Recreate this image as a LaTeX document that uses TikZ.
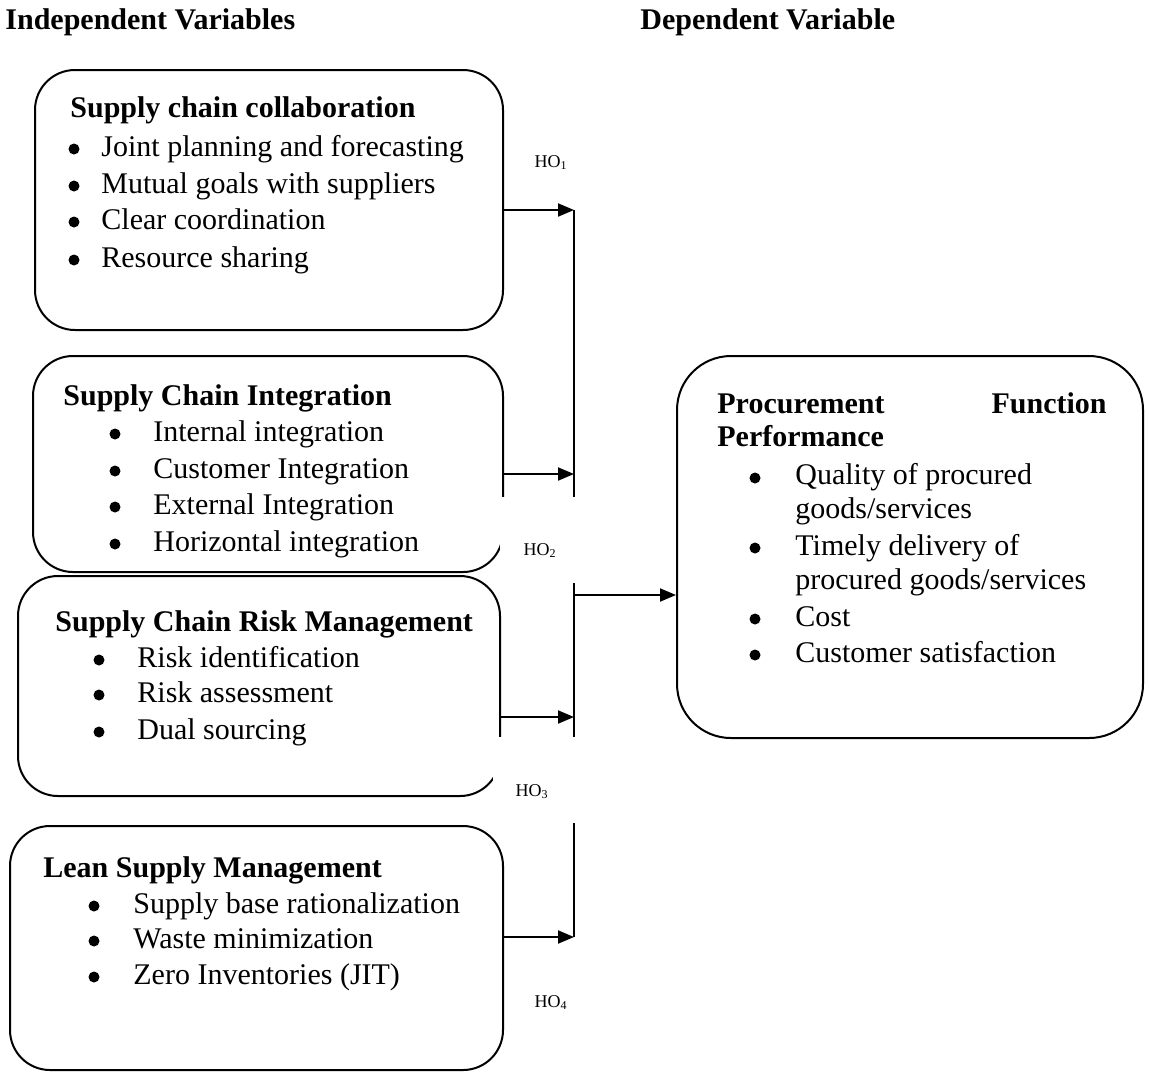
\documentclass[tikz,border=0pt]{standalone}
\usepackage{fontspec}
\setmainfont{Liberation Serif}
\usetikzlibrary{arrows.meta,fit}
\begin{document}
\begin{tikzpicture}[x=0.5pt,y=-0.5pt,
  box/.style={draw, line width=1pt, rounded corners=20pt, inner sep=0pt},
  txt/.style={anchor=base west, inner sep=0pt, font=\fontsize{15}{18}\selectfont},
  ttl/.style={anchor=base west, inner sep=0pt, font=\fontsize{15}{18}\selectfont\bfseries},
  bul/.style={circle, fill, inner sep=0pt, minimum size=5.5pt},
  hobg/.style={fill=white, inner sep=0pt, minimum width=43.5pt, minimum height=43pt},
  hot/.style={inner sep=0pt, font=\fontsize{9}{11}\selectfont},
  arr/.style={line width=1pt, -{Triangle[length=8pt,width=6.5pt]}},
  ln/.style={line width=1pt}]
\useasboundingbox (0,0) rectangle (1149,1072);
% headers
\node[ttl] (hind) at (5,29) {Independent Variables};
\node[ttl] (hdep) at (640,29) {Dependent Variable};
% boxes
\node[box, fit={(35,70) (503,330)}] (b1) {};
\node[box, fit={(33,356) (503,572)}] (b2) {};
\node[box, fit={(18,576) (500,796)}] (b3) {};
\node[box, fit={(10,826) (503,1070)}] (b4) {};
\node[box, rounded corners=27pt, fit={(677,356) (1143,738)}] (pf) {};
% box 1
\node[ttl] (b1t) at (70,117) {Supply chain collaboration};
\node[bul] (b1p1) at (74,149) {}; \node[txt] (b1a) at (101,156) {Joint planning and forecasting};
\node[bul] (b1p2) at (74,186) {}; \node[txt] (b1b) at (101,193) {Mutual goals with suppliers};
\node[bul] (b1p3) at (74,222) {}; \node[txt] (b1c) at (101,229) {Clear coordination};
\node[bul] (b1p4) at (74,260) {}; \node[txt] (b1d) at (101,267) {Resource sharing};
% box 2
\node[ttl] (b2t) at (63,405) {Supply Chain Integration};
\node[bul] (b2p1) at (115,434) {}; \node[txt] (b2a) at (153,441) {Internal integration};
\node[bul] (b2p2) at (115,471) {}; \node[txt] (b2b) at (153,478) {Customer Integration};
\node[bul] (b2p3) at (115,507) {}; \node[txt] (b2c) at (153,514) {External Integration};
\node[bul] (b2p4) at (115,544) {}; \node[txt] (b2d) at (153,551) {Horizontal integration};
% box 3
\node[ttl] (b3t) at (55,631) {Supply Chain Risk Management};
\node[bul] (b3p1) at (99,660) {}; \node[txt] (b3a) at (137,667) {Risk identification};
\node[bul] (b3p2) at (99,695) {}; \node[txt] (b3b) at (137,702) {Risk assessment};
\node[bul] (b3p3) at (99,732) {}; \node[txt] (b3c) at (137,739) {Dual sourcing};
% box 4
\node[ttl] (b4t) at (43,877) {Lean Supply Management};
\node[bul] (b4p1) at (94,906) {}; \node[txt] (b4a) at (133,913) {Supply base rationalization};
\node[bul] (b4p2) at (94,941) {}; \node[txt] (b4b) at (133,948) {Waste minimization};
\node[bul] (b4p3) at (94,977) {}; \node[txt] (b4c) at (133,984) {Zero Inventories (JIT)};
% dependent box
\node[ttl] (pft1) at (717,413) {Procurement};
\node[ttl, anchor=base east] (pft2) at (1107,413) {Function};
\node[ttl] (pft3) at (717,446) {Performance};
\node[bul] (pfp1) at (755,478) {}; \node[txt] (pfa) at (795,484) {Quality of procured};
\node[txt] (pfa2) at (795,518) {goods/services};
\node[bul] (pfp2) at (755,548) {}; \node[txt] (pfb) at (795,555) {Timely delivery of};
\node[txt] (pfb2) at (795,589) {procured goods/services};
\node[bul] (pfp3) at (755,619) {}; \node[txt] (pfc) at (795,626) {Cost};
\node[bul] (pfp4) at (755,655) {}; \node[txt] (pfd) at (795,662) {Customer satisfaction};
% connectors
\coordinate (v1) at (574,210);
\coordinate (v2) at (574,474);
\coordinate (vm) at (574,595);
\coordinate (v3) at (574,717);
\coordinate (v4) at (574,937);
\draw[ln] (v1) -- (v4);
\draw[arr] (b1.east |- v1) -- (v1);
\draw[arr] (b2.east |- v2) -- (v2);
\draw[arr] (b3.east |- v3) -- (v3);
\draw[arr] (b4.east |- v4) -- (v4);
\draw[arr] (vm) -- (pf.west |- vm);
% hypothesis labels (white backgrounds cover the lines, as in the original)
\node[hobg] (hb1) at (557,151) {};
\node[hobg] (hb2) at (543,540) {};
\node[hobg] (hb3) at (536,780) {};
\node[hobg] (hb4) at (557,989) {};
\node[hot] (ho1) at (551,163) {HO\textsubscript{1}};
\node[hot] (ho2) at (540,551) {HO\textsubscript{2}};
\node[hot] (ho3) at (532,792) {HO\textsubscript{3}};
\node[hot] (ho4) at (551,1003) {HO\textsubscript{4}};
\end{tikzpicture}
\end{document}
